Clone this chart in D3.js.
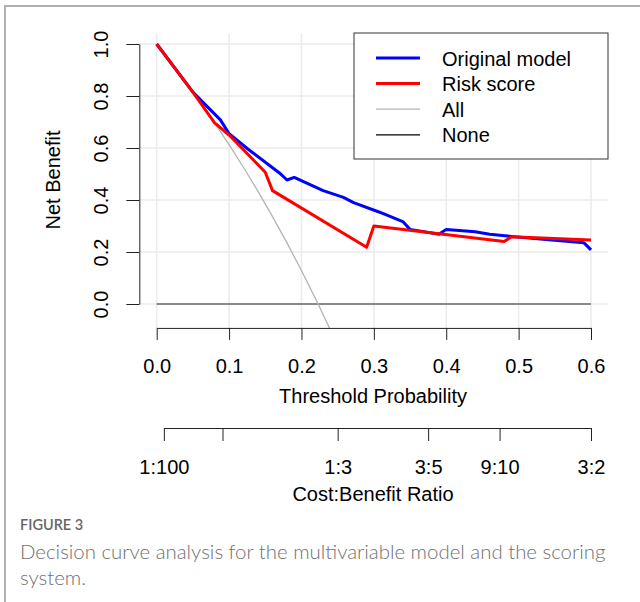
<!DOCTYPE html>
<html>
<head>
<meta charset="utf-8">
<script src="https://cdn.jsdelivr.net/npm/d3@7"></script>
<style>
  body { margin: 0; background: #fff; }
  svg { display: block; }
  .ax text { font-family: Arial, "Liberation Sans", Helvetica, sans-serif; font-size: 20px; fill: #000; }
  .ax path, .ax line { stroke: #222; stroke-width: 1; }
</style>
</head>
<body>
<script>
const width = 640;
const height = 602;

// threshold probabilities / net benefit
const modelT = [0, 0.05, 0.088, 0.10, 0.125, 0.17, 0.18, 0.19, 0.23, 0.258, 0.272, 0.308, 0.34, 0.35, 0.39, 0.40, 0.44, 0.46, 0.49, 0.59, 0.60];
const modelNB = [1.0, 0.815, 0.708, 0.655, 0.598, 0.503, 0.477, 0.487, 0.436, 0.410, 0.390, 0.353, 0.317, 0.287, 0.268, 0.287, 0.278, 0.268, 0.260, 0.236, 0.208];

const scoreT = [0, 0.05, 0.08, 0.10, 0.15, 0.16, 0.29, 0.30, 0.48, 0.49, 0.60];
const scoreNB = [1.0, 0.815, 0.697, 0.650, 0.507, 0.436, 0.218, 0.300, 0.240, 0.259, 0.246];

const allT = [0, 0.02, 0.04, 0.06, 0.08, 0.10, 0.12, 0.14, 0.16, 0.18, 0.20, 0.22, 0.24];
const allNB = [1.0, 0.929, 0.855, 0.778, 0.697, 0.613, 0.525, 0.433, 0.336, 0.235, 0.129, 0.017, -0.100];

const noneT = [0, 0.6];
const noneNB = [0, 0];

const xTicks = [0, 0.1, 0.2, 0.3, 0.4, 0.5, 0.6];
const yTicks = [0, 0.2, 0.4, 0.6, 0.8, 1.0];
const cbValues = [1 / 101, 1 / 11, 1 / 4, 3 / 8, 9 / 19, 3 / 5];
const cbLabels = ['1:100', '', '1:3', '3:5', '9:10', '3:2'];

const legendNames = ['Original model', 'Risk score', 'All', 'None'];
const legendColors = ['#0000ff', '#ff0000', '#b3b3b3', '#000000'];
const legendWidths = [3, 3, 1.3, 1.2];

const FONT = 'Arial, "Liberation Sans", Helvetica, sans-serif';

const svg = d3.select('body')
    .append('svg')
    .attr('width', width)
    .attr('height', height);

// frame of the figure
svg.append('path')
    .attr('d', 'M5,602 V6 H640')
    .attr('fill', 'none')
    .attr('stroke', '#b0b0b0')
    .attr('stroke-width', 2);

const x = d3.scaleLinear().domain([0, 0.6]).range([156.7, 591]);
const y = d3.scaleLinear().domain([0, 1]).range([304, 44]);

// R style plot region (4% padding)
const px0 = x(-0.024), px1 = x(0.624);
const py0 = y(1.042), py1 = y(-0.092);

svg.append('clipPath').attr('id', 'plotclip')
    .append('rect')
    .attr('x', px0).attr('y', py0)
    .attr('width', px1 - px0).attr('height', py1 - py0);

// grid
const grid = svg.append('g').attr('stroke', '#ebebeb').attr('stroke-width', 1.5);
grid.selectAll('.gx')
    .data(xTicks)
    .enter()
    .append('line')
    .attr('x1', d => x(d)).attr('x2', d => x(d))
    .attr('y1', py0).attr('y2', py1);
grid.selectAll('.gy')
    .data(yTicks)
    .enter()
    .append('line')
    .attr('x1', px0).attr('x2', px1)
    .attr('y1', d => y(d)).attr('y2', d => y(d));

const line = d3.line().x(d => x(d[0])).y(d => y(d[1]));
const zip = (a, b) => a.map((v, i) => [v, b[i]]);

const curves = [
    { pts: zip(noneT, noneNB), color: '#222', w: 1.2 },
    { pts: zip(allT, allNB), color: legendColors[2], w: 1.3 },
    { pts: zip(modelT, modelNB), color: legendColors[0], w: 3 },
    { pts: zip(scoreT, scoreNB), color: legendColors[1], w: 3 }
];

svg.append('g')
    .attr('clip-path', 'url(#plotclip)')
    .selectAll('path')
    .data(curves)
    .enter()
    .append('path')
    .attr('d', d => line(d.pts))
    .attr('fill', 'none')
    .attr('stroke', d => d.color)
    .attr('stroke-width', d => d.w)
    .attr('stroke-linejoin', 'round');

// y axis
const yAxis = svg.append('g')
    .attr('class', 'ax')
    .attr('transform', `translate(${px0},0)`)
    .call(d3.axisLeft(y).tickValues(yTicks).tickSize(13).tickSizeOuter(0).tickFormat(d3.format('.1f')));
yAxis.selectAll('text')
    .attr('x', 0).attr('y', 0).attr('dy', 0)
    .attr('text-anchor', 'middle')
    .attr('transform', 'translate(-31,0) rotate(-90)');

// x axis
svg.append('g')
    .attr('class', 'ax')
    .attr('transform', `translate(0,${py1})`)
    .call(d3.axisBottom(x).tickValues(xTicks).tickSize(12).tickSizeOuter(0).tickPadding(19).tickFormat(d3.format('.1f')));

// cost:benefit axis
const cb = x.copy().domain([cbValues[0], 0.6]).range([x(cbValues[0]), x(0.6)]);
svg.append('g')
    .attr('class', 'ax')
    .attr('transform', 'translate(0,428)')
    .call(d3.axisBottom(cb).tickValues(cbValues).tickSize(13).tickSizeOuter(0).tickPadding(19)
        .tickFormat((d, i) => cbLabels[i]));

const title = (txt, tx, ty, rot) => svg.append('text')
    .attr('transform', `translate(${tx},${ty})` + (rot ? ' rotate(-90)' : ''))
    .attr('text-anchor', 'middle')
    .attr('font-family', FONT)
    .attr('font-size', 20)
    .text(txt);

title('Threshold Probability', 373, 403);
title('Cost:Benefit Ratio', 373, 501);
title('Net Benefit', 60, 180, true);

// legend
const lg = svg.append('g');
lg.append('rect')
    .attr('x', 354).attr('y', 33)
    .attr('width', 254).attr('height', 126)
    .attr('fill', '#fff')
    .attr('stroke', '#333')
    .attr('stroke-width', 1);
const rows = lg.selectAll('g')
    .data(legendNames)
    .enter()
    .append('g')
    .attr('transform', (d, i) => `translate(0,${58 + i * 25.6})`);
rows.append('line')
    .attr('x1', 376).attr('x2', 420)
    .attr('stroke', (d, i) => legendColors[i])
    .attr('stroke-width', (d, i) => legendWidths[i]);
rows.append('text')
    .attr('x', 442).attr('y', 7.5)
    .attr('font-family', FONT)
    .attr('font-size', 20)
    .text(d => d);

// caption
svg.append('text')
    .attr('x', 20).attr('y', 530)
    .attr('font-family', 'Lato, "Open Sans", sans-serif')
    .attr('font-size', 14.5)
    .attr('font-weight', 600)
    .attr('fill', '#666')
    .text('FIGURE 3');
const cap = svg.append('text')
    .attr('font-family', 'Lato, "Open Sans", sans-serif')
    .attr('font-size', 20.4)
    .attr('font-weight', 300)
    .attr('fill', '#707070');
cap.append('tspan').attr('x', 20).attr('y', 559)
    .text('Decision curve analysis for the multivariable model and the scoring');
cap.append('tspan').attr('x', 20).attr('y', 585)
    .text('system.');
</script>
</body>
</html>
